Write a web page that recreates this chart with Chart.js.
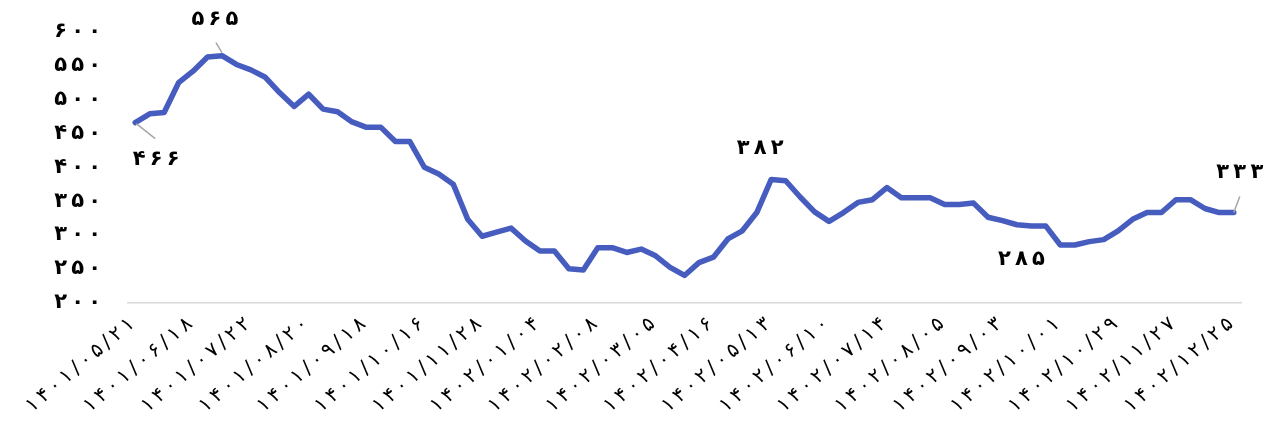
<!DOCTYPE html>
<html lang="fa">
<head>
<meta charset="utf-8">
<title>روند قیمت</title>
<script src="https://cdn.jsdelivr.net/npm/chart.js@4.4.1/dist/chart.umd.min.js"></script>
<style>
  html, body { margin: 0; padding: 0; background: #ffffff; }
  #wrap { width: 1268px; height: 428px; position: relative; }
</style>
</head>
<body>
<div id="wrap"><canvas id="chart" width="1268" height="428"></canvas></div>
<script>
// Weekly report dates (Solar Hijri)
const categories = [
  '1401/05/21','1401/05/28','1401/06/04','1401/06/11',
  '1401/06/18','1401/06/25','1401/07/01','1401/07/08',
  '1401/07/22','1401/07/29','1401/08/06','1401/08/13',
  '1401/08/20','1401/08/27','1401/09/04','1401/09/11',
  '1401/09/18','1401/09/25','1401/10/02','1401/10/09',
  '1401/10/16','1401/10/23','1401/10/30','1401/11/14',
  '1401/11/28','1401/12/05','1401/12/12','1401/12/19',
  '1402/01/04','1402/01/11','1402/01/25','1402/02/01',
  '1402/02/08','1402/02/15','1402/02/22','1402/02/29',
  '1402/03/05','1402/03/12','1402/03/26','1402/04/09',
  '1402/04/16','1402/04/23','1402/04/30','1402/05/06',
  '1402/05/13','1402/05/20','1402/05/27','1402/06/03',
  '1402/06/10','1402/06/17','1402/06/24','1402/07/07',
  '1402/07/14','1402/07/18','1402/07/23','1402/07/28',
  '1402/08/05','1402/08/12','1402/08/19','1402/08/26',
  '1402/09/03','1402/09/10','1402/09/17','1402/09/24',
  '1402/10/01','1402/10/08','1402/10/15','1402/10/22',
  '1402/10/29','1402/11/06','1402/11/13','1402/11/20',
  '1402/11/27','1402/12/04','1402/12/11','1402/12/18',
  '1402/12/25'
];

// Series values
const priceValues = [
  466, 479, 481, 525,
  542, 563, 565, 552,
  544, 533, 510, 490,
  508, 486, 482, 467,
  459, 459, 438, 438,
  400, 390, 375, 323,
  298, 304, 310, 291,
  276, 276, 250, 248,
  281, 281, 274, 279,
  269, 252, 240, 259,
  267, 294, 306, 333,
  382, 380, 356, 334,
  320, 333, 348, 352,
  370, 355, 355, 355,
  345, 345, 347, 326,
  321, 315, 313, 313,
  285, 285, 290, 293,
  306, 323, 333, 333,
  352, 352, 339, 333,
  333
];

// Y axis ticks
const yTickValues = [200, 250, 300, 350, 400, 450, 500, 550, 600];

// Points that carry a value label
const labeledPoints = [0, 6, 44, 64, 76];

// Every fourth date is printed on the axis
const xLabelEvery = 4;

const faDigits = '۰۱۲۳۴۵۶۷۸۹';
const THIN = '\u2009';
// Persian digits, loosely tracked with thin spaces
const toFa = s => Array.from(String(s).replace(/\d/g, d => faDigits[d])).join(THIN);

const FONT = '"DejaVu Sans", sans-serif';

// Placement of each value label relative to its point, plus optional leader line
const labelPlacement = {
  0:  { dx: 21,  dy: 37,  leader: [1, 1, 20, 16] },
  6:  { dx: -7,  dy: -36, leader: [0, -3, -6, -13] },
  44: { dx: -11, dy: -31, leader: null },
  64: { dx: -39, dy: 15,  leader: null },
  76: { dx: 6,   dy: -40, leader: [0, 0, 6, -16] }
};

const valueLabels = {
  id: 'valueLabels',
  afterDatasetsDraw(chart) {
    const { ctx } = chart;
    const meta = chart.getDatasetMeta(0);
    ctx.save();
    labeledPoints.forEach(i => {
      const pt = meta.data[i];
      const p = labelPlacement[i];
      if (p.leader) {
        ctx.strokeStyle = '#a6a6a6';
        ctx.lineWidth = 1.5;
        ctx.beginPath();
        ctx.moveTo(pt.x + p.leader[0], pt.y + p.leader[1]);
        ctx.lineTo(pt.x + p.leader[2], pt.y + p.leader[3]);
        ctx.stroke();
      }
      ctx.fillStyle = '#000000';
      ctx.font = 'bold 21px ' + FONT;
      ctx.textAlign = 'center';
      ctx.textBaseline = 'middle';
      ctx.fillText(toFa(priceValues[i]), pt.x + p.dx, pt.y + p.dy);
    });
    ctx.restore();
  }
};

new Chart(document.getElementById('chart'), {
  type: 'line',
  data: {
    labels: categories,
    datasets: [{
      data: priceValues,
      borderColor: '#475CBF',
      borderWidth: 5.5,
      pointRadius: 0,
      pointHoverRadius: 0,
      tension: 0,
      borderJoinStyle: 'round',
      borderCapStyle: 'round',
      fill: false
    }]
  },
  options: {
    responsive: false,
    animation: false,
    events: [],
    layout: { padding: { left: 0, right: 27, top: 32, bottom: 0 } },
    plugins: { legend: { display: false }, tooltip: { enabled: false } },
    scales: {
      x: {
        type: 'category',
        offset: true,
        grid: { display: false, drawTicks: false },
        border: { display: true, color: '#d9d9d9', width: 1.5 },
        ticks: {
          autoSkip: false,
          minRotation: 40,
          maxRotation: 40,
          padding: 10,
          labelOffset: -3,
          color: '#000000',
          font: { family: FONT, size: 20 },
          callback(value, index) {
            return index % xLabelEvery === 0 ? toFa(categories[index]) : '';
          }
        },
        afterFit(axis) { axis.height = 428 - 302.5; }
      },
      y: {
        min: yTickValues[0],
        max: yTickValues[yTickValues.length - 1],
        grid: { display: false, drawTicks: false },
        border: { display: false },
        ticks: {
          stepSize: yTickValues[1] - yTickValues[0],
          padding: 27,
          color: '#000000',
          font: { family: FONT, size: 21, weight: 'bold' },
          callback: v => toFa(v)
        },
        afterFit(axis) {
          axis.width = 128;
          // the plot top comes from layout padding alone
          axis.paddingTop = 0;
          axis.paddingBottom = 0;
        }
      }
    }
  },
  plugins: [valueLabels]
});
</script>
</body>
</html>
